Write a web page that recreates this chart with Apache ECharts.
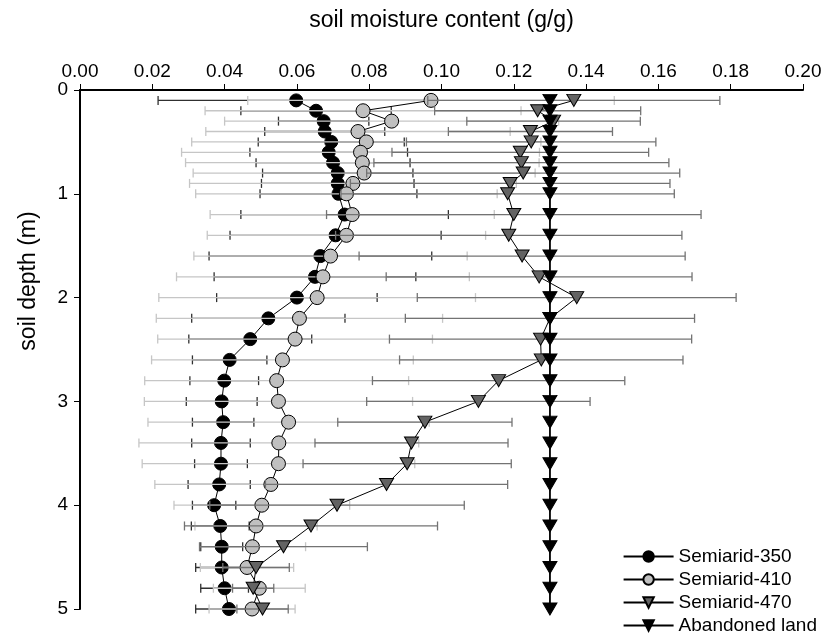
<!DOCTYPE html>
<html>
<head>
<meta charset="utf-8">
<title>soil moisture profile</title>
<script src="https://cdn.jsdelivr.net/npm/echarts@6/dist/echarts.min.js"></script>
<style>
    html, body { margin: 0; padding: 0; background: #fff; }
    #profile { width: 828px; height: 644px; }
</style>
</head>
<body>
<div id="profile"></div>
<script>
// soil depth (m) of each sampling layer
var depths = [0.1, 0.2, 0.3, 0.4, 0.5, 0.6, 0.7, 0.8, 0.9, 1.0,
    1.2, 1.4, 1.6, 1.8, 2.0, 2.2, 2.4, 2.6, 2.8, 3.0,
    3.2, 3.4, 3.6, 3.8, 4.0, 4.2, 4.4, 4.6, 4.8, 5.0];

var semi350 = [0.0598, 0.0653, 0.0674, 0.0677, 0.0695, 0.0688, 0.0700, 0.0713, 0.0713, 0.0715,
    0.0732, 0.0707, 0.0665, 0.0650, 0.0600, 0.0521, 0.0471, 0.0414, 0.0399, 0.0392,
    0.0396, 0.0390, 0.0390, 0.0385, 0.0371, 0.0388, 0.0392, 0.0392, 0.0400, 0.0412];
var semi350Sd = [0.0382, 0.0208, 0.0125, 0.0166, 0.0202, 0.0218, 0.0213, 0.0208, 0.0211, 0.0217,
    0.0287, 0.0292, 0.0308, 0.0279, 0.0222, 0.0212, 0.0170, 0.0103, 0.0095, 0.0098,
    0.0085, 0.0081, 0.0073, 0.0086, 0.0060, 0.0080, 0.0058, 0.0072, 0.0066, 0.0092];

var semi410 = [0.0971, 0.0783, 0.0862, 0.0769, 0.0792, 0.0776, 0.0781, 0.0786, 0.0755, 0.0737,
    0.0753, 0.0737, 0.0693, 0.0672, 0.0656, 0.0607, 0.0595, 0.0560, 0.0544, 0.0549,
    0.0577, 0.0550, 0.0549, 0.0528, 0.0503, 0.0487, 0.0477, 0.0462, 0.0496, 0.0476];
var semi410Sd = [0.0507, 0.0437, 0.0462, 0.0421, 0.0483, 0.0495, 0.0489, 0.0473, 0.0452, 0.0417,
    0.0393, 0.0385, 0.0378, 0.0405, 0.0438, 0.0396, 0.0380, 0.0362, 0.0365, 0.0371,
    0.0389, 0.0387, 0.0377, 0.0321, 0.0243, 0.0169, 0.0147, 0.0129, 0.0127, 0.0119];

var semi470 = [0.1366, 0.1266, 0.1310, 0.1246, 0.1248, 0.1218, 0.1221, 0.1226, 0.1190, 0.1183,
    0.1200, 0.1186, 0.1223, 0.1270, 0.1374, 0.1300, 0.1274, 0.1276, 0.1158, 0.1102,
    0.0954, 0.0917, 0.0905, 0.0848, 0.0711, 0.0639, 0.0563, 0.0487, 0.0479, 0.0505];
var semi470Sd = [0.0404, 0.0285, 0.0240, 0.0227, 0.0345, 0.0355, 0.0408, 0.0433, 0.0442, 0.0461,
    0.0518, 0.0479, 0.0451, 0.0423, 0.0441, 0.0400, 0.0418, 0.0392, 0.0349, 0.0309,
    0.0241, 0.0267, 0.0288, 0.0335, 0.0352, 0.0350, 0.0232, 0.0092, 0.0057, 0.0071];

var abandoned = [0.13, 0.13, 0.13, 0.13, 0.13, 0.13, 0.13, 0.13, 0.13, 0.13,
    0.13, 0.13, 0.13, 0.13, 0.13, 0.13, 0.13, 0.13, 0.13, 0.13,
    0.13, 0.13, 0.13, 0.13, 0.13, 0.13, 0.13, 0.13, 0.13, 0.13];

var moistureTicks = [0.00, 0.02, 0.04, 0.06, 0.08, 0.10, 0.12, 0.14, 0.16, 0.18, 0.20];
var depthTicks = [0, 1, 2, 3, 4, 5];

var FONT = 'Liberation Sans';

function pairs(values) {
    var out = [];
    for (var i = 0; i < depths.length; i++) {
        out.push([values[i], depths[i]]);
    }
    return out;
}

// horizontal +/- sd bars with end caps
function errorBars(name, means, sds, color, z) {
    var data = [];
    for (var i = 0; i < depths.length; i++) {
        data.push([means[i] - sds[i], means[i] + sds[i], depths[i]]);
    }
    return {
        type: 'custom',
        name: name + ' sd',
        z: z,
        silent: true,
        data: data,
        encode: {x: [0, 1], y: 2},
        renderItem: function(params, api) {
            var lo = api.coord([api.value(0), api.value(2)]);
            var hi = api.coord([api.value(1), api.value(2)]);
            var h = 4.5;
            var style = {stroke: color, lineWidth: 1.3, fill: null};
            return {
                type: 'group',
                children: [
                    {type: 'line', shape: {x1: lo[0], y1: lo[1], x2: hi[0], y2: hi[1]}, style: style},
                    {type: 'line', shape: {x1: lo[0], y1: lo[1] - h, x2: lo[0], y2: lo[1] + h}, style: style},
                    {type: 'line', shape: {x1: hi[0], y1: hi[1] - h, x2: hi[0], y2: hi[1] + h}, style: style}
                ]
            };
        }
    };
}

function profileLine(name, values, symbol, size, rotate, fill, z, lineWidth) {
    return {
        type: 'line',
        name: name,
        z: z,
        data: pairs(values),
        symbol: symbol,
        symbolSize: size,
        symbolRotate: rotate,
        showAllSymbol: true,
        animation: false,
        lineStyle: {color: '#000', width: lineWidth},
        itemStyle: {color: fill, borderColor: '#000', borderWidth: 1}
    };
}

var chart = echarts.init(document.getElementById('profile'));

var option = {
    animation: false,
    backgroundColor: '#fff',
    grid: {left: 80, right: 25, top: 90, bottom: 35},
    // depth title sits a bit above the middle of the axis in the original
    graphic: [{
        type: 'text',
        x: 29,
        y: 281,
        rotation: Math.PI / 2,
        style: {
            text: 'soil depth (m)',
            fontFamily: FONT,
            fontSize: 23,
            fill: '#000',
            align: 'center',
            verticalAlign: 'middle'
        }
    }],
    legend: {
        orient: 'vertical',
        right: 6,
        bottom: 4,
        itemWidth: 50,
        itemHeight: 13,
        itemGap: 4,
        textStyle: {fontFamily: FONT, fontSize: 19, color: '#000'},
        data: ['Semiarid-350', 'Semiarid-410', 'Semiarid-470', 'Abandoned land']
    },
    xAxis: {
        type: 'value',
        position: 'top',
        min: moistureTicks[0],
        max: moistureTicks[moistureTicks.length - 1],
        interval: 0.02,
        name: 'soil moisture content (g/g)',
        nameLocation: 'middle',
        nameGap: 58,
        nameTextStyle: {fontFamily: FONT, fontSize: 23, color: '#000'},
        axisLine: {lineStyle: {color: '#000', width: 2}},
        axisTick: {length: 6, lineStyle: {color: '#000', width: 1}},
        axisLabel: {
            fontFamily: FONT, fontSize: 19, color: '#000', margin: 9,
            formatter: function(v) { return v.toFixed(2); }
        },
        splitLine: {show: false}
    },
    yAxis: {
        type: 'value',
        inverse: true,
        min: depthTicks[0],
        max: depthTicks[depthTicks.length - 1],
        interval: 1,
        axisLine: {show: true, lineStyle: {color: '#000', width: 2}},
        axisTick: {show: true, length: 6, lineStyle: {color: '#000', width: 1}},
        axisLabel: {fontFamily: FONT, fontSize: 19, color: '#000', margin: 12},
        splitLine: {show: false}
    },
    series: [
        errorBars('Semiarid-350', semi350, semi350Sd, '#303030', 1),
        profileLine('Semiarid-350', semi350, 'circle', 13, 0, '#000', 2, 1),
        errorBars('Semiarid-410', semi410, semi410Sd, '#c6c6c6', 3),
        profileLine('Semiarid-410', semi410, 'circle', 14, 0, '#c0c0c0', 4, 1),
        errorBars('Semiarid-470', semi470, semi470Sd, '#737373', 5),
        profileLine('Semiarid-470', semi470, 'triangle', [14, 12], 180, '#636363', 6, 1),
        profileLine('Abandoned land', abandoned, 'triangle', [14, 12], 180, '#000', 7, 1.8)
    ]
};

chart.setOption(option);
</script>
</body>
</html>
